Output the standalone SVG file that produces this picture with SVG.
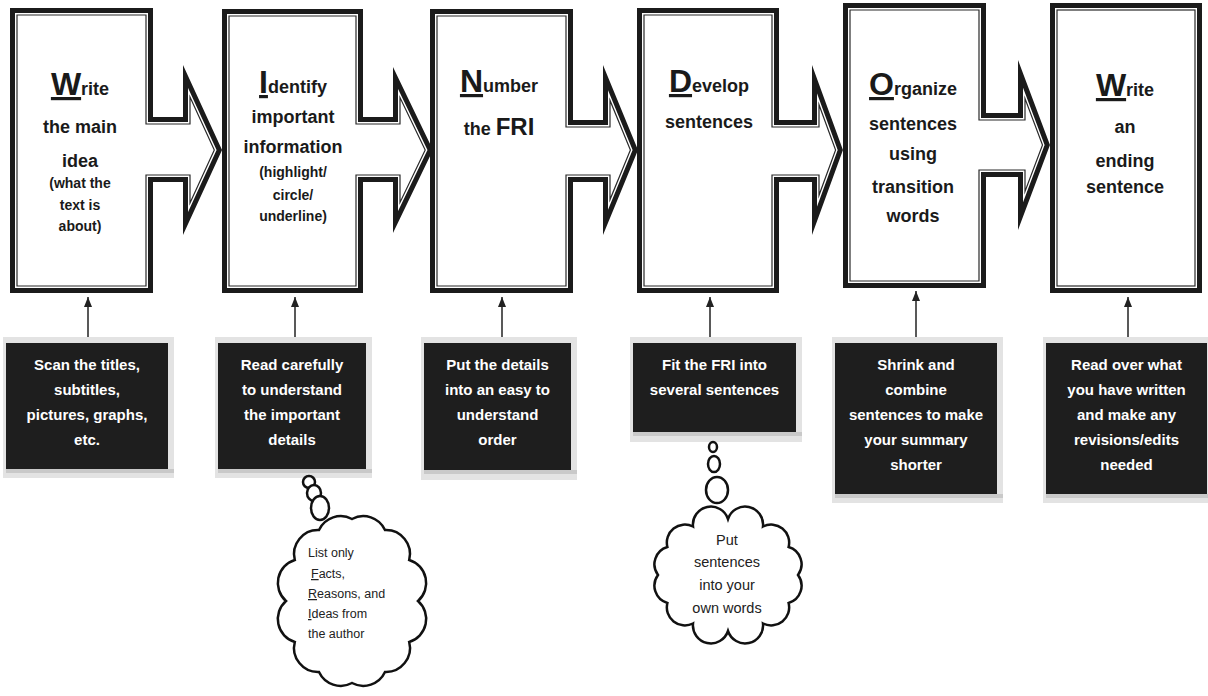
<svg xmlns="http://www.w3.org/2000/svg" width="1208" height="696" viewBox="0 0 1208 696">
<style>
.band{fill:#fff;stroke:#1b1b1b;stroke-width:5;stroke-linejoin:miter;stroke-miterlimit:12}
.inner{fill:none;stroke:#2a2a2a;stroke-width:1.2;stroke-linejoin:miter;stroke-miterlimit:12}
.t{font-family:"Liberation Sans",Arial,sans-serif;font-weight:bold;fill:#1a1a1a;text-anchor:middle}
.big{font-size:18px}
.small{font-size:14px}
.cap{font-size:32px;text-decoration:underline;text-decoration-thickness:3px;text-underline-offset:5px}
.shadow{fill:#e3e3e3}
.shadow2{fill:#c9c9c9}
.bb{fill:#1e1e1e}
.wt{font-family:"Liberation Sans",Arial,sans-serif;font-weight:bold;font-size:15px;fill:#fff;text-anchor:middle}
.conn{stroke:#222;stroke-width:1.5;fill:none}
.cloud{fill:#fff;stroke:#111;stroke-width:2.5}
.ct{font-family:"Liberation Sans",Arial,sans-serif;font-size:12.5px;fill:#222}
.ct2{font-family:"Liberation Sans",Arial,sans-serif;font-size:14.5px;fill:#222;text-anchor:middle}
.ul{text-decoration:underline;text-decoration-thickness:2px}
</style>
<defs>
<marker id="ah" viewBox="0 0 10 8" refX="10" refY="4" markerWidth="10" markerHeight="8" markerUnits="userSpaceOnUse" orient="auto">
<path d="M0,0 L10,4 L0,8 z" fill="#222"/>
</marker>
</defs>

<g id="step1">
<polygon class="band" points="12.5,10.5 150.5,10.5 150.5,119.5 185.5,119.5 185.5,76.5 219.3,150 185.5,223.5 185.5,179.5 150.5,179.5 150.5,290.5 12.5,290.5"/>
<polygon class="inner" points="17,15 146,15 146,124 190,124 190,97 214.3,150 190,203 190,175 146,175 146,286 17,286"/>
<text class="t big" x="80" y="95"><tspan class="cap">W</tspan>rite</text>
<text class="t big" x="80" y="133">the main</text>
<text class="t big" x="80" y="167">idea</text>
<text class="t small" x="80" y="188">(what the</text>
<text class="t small" x="80" y="210">text is</text>
<text class="t small" x="80" y="231">about)</text>
</g>

<g id="step2">
<polygon class="band" points="224.5,11.5 360.5,11.5 360.5,119.5 395.5,119.5 395.5,77.9 430.2,150 395.5,222.1 395.5,179.5 360.5,179.5 360.5,290.5 224.5,290.5"/>
<polygon class="inner" points="229,16 356,16 356,124 400,124 400,97.6 425.2,150 400,202.4 400,175 356,175 356,286 229,286"/>
<text class="t big" x="293" y="93"><tspan class="cap">I</tspan>dentify</text>
<text class="t big" x="293" y="123">important</text>
<text class="t big" x="293" y="153">information</text>
<text class="t small" x="293" y="177">(highlight/</text>
<text class="t small" x="293" y="200">circle/</text>
<text class="t small" x="293" y="221">underline)</text>
</g>

<g id="step3">
<polygon class="band" points="432.5,11.5 570.5,11.5 570.5,122.5 605.5,122.5 605.5,77.6 635.3,150 605.5,222.4 605.5,179.5 570.5,179.5 570.5,290.5 432.5,290.5"/>
<polygon class="inner" points="437,16 566,16 566,127 610,127 610,100.4 630.4,150 610,199.6 610,175 566,175 566,286 437,286"/>
<text class="t big" x="499" y="92"><tspan class="cap">N</tspan>umber</text>
<text class="t big" x="499" y="135">the <tspan font-size="24">FRI</tspan></text>
</g>

<g id="step4">
<polygon class="band" points="639.5,10.5 776.5,10.5 776.5,122.5 814.5,122.5 814.5,79.2 840.3,150 814.5,220.8 814.5,179.5 776.5,179.5 776.5,290.5 639.5,290.5"/>
<polygon class="inner" points="644,15 772,15 772,127 819,127 819,104.7 835.6,150 819,195.3 819,175 772,175 772,286 644,286"/>
<text class="t big" x="709" y="92"><tspan class="cap">D</tspan>evelop</text>
<text class="t big" x="709" y="128">sentences</text>
</g>

<g id="step5">
<polygon class="band" points="845.5,5.5 983.5,5.5 983.5,115.5 1020.5,115.5 1020.5,73.8 1047.3,145 1020.5,216.2 1020.5,174.5 983.5,174.5 983.5,285.5 845.5,285.5"/>
<polygon class="inner" points="850,10 979,10 979,120 1025,120 1025,98.5 1042.5,145 1025,191.5 1025,170 979,170 979,281 850,281"/>
<text class="t big" x="913" y="95"><tspan class="cap">O</tspan>rganize</text>
<text class="t big" x="913" y="130">sentences</text>
<text class="t big" x="913" y="160">using</text>
<text class="t big" x="913" y="193">transition</text>
<text class="t big" x="913" y="222">words</text>
</g>

<g id="step6">
<rect class="band" x="1052.5" y="5.5" width="147" height="285"/>
<rect class="inner" x="1057" y="10" width="138" height="276"/>
<text class="t big" x="1125" y="96"><tspan class="cap">W</tspan>rite</text>
<text class="t big" x="1125" y="133">an</text>
<text class="t big" x="1125" y="167">ending</text>
<text class="t big" x="1125" y="193">sentence</text>
</g>

<g id="note1">
<rect class="shadow" x="3" y="337" width="171" height="141"/>
<rect class="shadow2" x="6" y="469" width="168" height="4"/>
<rect class="bb" x="6" y="343" width="162" height="126"/>
<text class="wt" x="87" y="370">Scan the titles,</text>
<text class="wt" x="87" y="395">subtitles,</text>
<text class="wt" x="87" y="420">pictures, graphs,</text>
<text class="wt" x="87" y="445">etc.</text>
</g>

<g id="note2">
<rect class="shadow" x="215" y="337" width="157" height="141"/>
<rect class="shadow2" x="218" y="469" width="154" height="4"/>
<rect class="bb" x="218" y="343" width="148" height="126"/>
<text class="wt" x="292" y="370">Read carefully</text>
<text class="wt" x="292" y="395">to understand</text>
<text class="wt" x="292" y="420">the important</text>
<text class="wt" x="292" y="445">details</text>
</g>

<g id="note3">
<rect class="shadow" x="421" y="337" width="156" height="143"/>
<rect class="shadow2" x="424" y="470" width="153" height="4"/>
<rect class="bb" x="424" y="343" width="147" height="127"/>
<text class="wt" x="497.5" y="370">Put the details</text>
<text class="wt" x="497.5" y="395">into an easy to</text>
<text class="wt" x="497.5" y="420">understand</text>
<text class="wt" x="497.5" y="445">order</text>
</g>

<g id="note4">
<rect class="shadow" x="630" y="337" width="172" height="105"/>
<rect class="shadow2" x="633" y="432" width="169" height="4"/>
<rect class="bb" x="633" y="343" width="163" height="89"/>
<text class="wt" x="714.5" y="370">Fit the FRI into</text>
<text class="wt" x="714.5" y="395">several sentences</text>
</g>

<g id="note5">
<rect class="shadow" x="832" y="337" width="171" height="166"/>
<rect class="shadow2" x="835" y="494" width="168" height="4"/>
<rect class="bb" x="835" y="343" width="162" height="151"/>
<text class="wt" x="916" y="370">Shrink and</text>
<text class="wt" x="916" y="395">combine</text>
<text class="wt" x="916" y="420">sentences to make</text>
<text class="wt" x="916" y="445">your summary</text>
<text class="wt" x="916" y="470">shorter</text>
</g>

<g id="note6">
<rect class="shadow" x="1043" y="337" width="170" height="166"/>
<rect class="shadow2" x="1046" y="494" width="167" height="4"/>
<rect class="bb" x="1046" y="343" width="161" height="151"/>
<text class="wt" x="1126.5" y="370">Read over what</text>
<text class="wt" x="1126.5" y="395">you have written</text>
<text class="wt" x="1126.5" y="420">and make any</text>
<text class="wt" x="1126.5" y="445">revisions/edits</text>
<text class="wt" x="1126.5" y="470">needed</text>
</g>

<g id="connectors">
<line class="conn" x1="88" y1="337" x2="88" y2="297" marker-end="url(#ah)"/>
<line class="conn" x1="295" y1="337" x2="295" y2="297" marker-end="url(#ah)"/>
<line class="conn" x1="502" y1="337" x2="502" y2="297" marker-end="url(#ah)"/>
<line class="conn" x1="710" y1="337" x2="710" y2="297" marker-end="url(#ah)"/>
<line class="conn" x1="916" y1="337" x2="916" y2="291" marker-end="url(#ah)"/>
<line class="conn" x1="1128" y1="337" x2="1128" y2="297" marker-end="url(#ah)"/>
</g>

<g id="thought1">
<ellipse class="cloud" cx="309" cy="482" rx="6" ry="6"/>
<ellipse class="cloud" cx="314" cy="493" rx="7" ry="8"/>
<ellipse class="cloud" cx="320" cy="508" rx="9" ry="12"/>
<path class="cloud" d="M352,519 A24,24 0 0 1 385,530 A24,24 0 0 1 409.2,560 A24,24 0 0 1 418,601 A24,24 0 0 1 409.2,642 A24,24 0 0 1 385,672 A24,24 0 0 1 352,683 A24,24 0 0 1 319,672 A24,24 0 0 1 294.8,642 A24,24 0 0 1 286,601 A24,24 0 0 1 294.8,560 A24,24 0 0 1 319,530 A24,24 0 0 1 352,519 Z"/>
<text class="ct" x="308" y="557">List only</text>
<text class="ct" x="311" y="578"><tspan class="ul">F</tspan>acts,</text>
<text class="ct" x="308" y="598"><tspan class="ul">R</tspan>easons, and</text>
<text class="ct" x="308" y="618"><tspan class="ul">I</tspan>deas from</text>
<text class="ct" x="308" y="638">the author</text>
</g>

<g id="thought2">
<ellipse class="cloud" cx="713" cy="447" rx="4" ry="5"/>
<ellipse class="cloud" cx="714" cy="464" rx="6" ry="8"/>
<ellipse class="cloud" cx="717" cy="490" rx="11" ry="13"/>
<path class="cloud" d="M728,519 A18,18 0 0 1 763,526.5 A18,18 0 0 1 788.6,547 A18,18 0 0 1 798,575 A18,18 0 0 1 788.6,603 A18,18 0 0 1 763,623.5 A18,18 0 0 1 728,631 A18,18 0 0 1 693,623.5 A18,18 0 0 1 667.4,603 A18,18 0 0 1 658,575 A18,18 0 0 1 667.4,547 A18,18 0 0 1 693,526.5 A18,18 0 0 1 728,519 Z"/>
<text class="ct2" x="727" y="545">Put</text>
<text class="ct2" x="727" y="567">sentences</text>
<text class="ct2" x="727" y="590">into your</text>
<text class="ct2" x="727" y="613">own words</text>
</g>
</svg>
